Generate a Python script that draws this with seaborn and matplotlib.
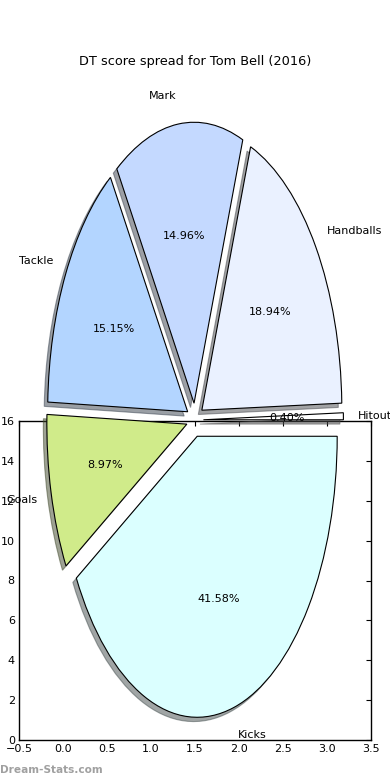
import matplotlib
matplotlib.use("Agg")
import matplotlib.pyplot as plt
import seaborn as sns

# Data (percent of DT score), in counter-clockwise order starting at 0 deg
categories = ["Hitout", "Handballs", "Mark", "Tackle", "Goals", "Kicks"]
shares = [0.40, 18.94, 14.96, 15.15, 8.97, 41.58]
wedge_colors = ["#FFFFFF", "#EAF1FF", "#C4D9FF", "#B3D5FF", "#D0EB8A", "#DBFFFF"]

x_ticks = [-0.5, 0.0, 0.5, 1.0, 1.5, 2.0, 2.5, 3.0, 3.5]
y_ticks = [0, 2, 4, 6, 8, 10, 12, 14, 16]

sns.set_theme(style="white")
plt.rcParams["font.family"] = ["DejaVu Sans"]

W, H = 390, 780
fig = plt.figure(figsize=(W / 100, H / 100), dpi=100)

# Leftover axes frame sitting behind the pie
ax = fig.add_axes([19 / W, 40 / H, 352 / W, 319 / H])
ax.set_xlim(-0.5, 3.5)
ax.set_ylim(0, 16)
ax.set_xticks(x_ticks)
ax.set_yticks(y_ticks)
ax.tick_params(direction="in", top=True, right=True, length=3.5, width=0.8,
               labelsize=8, pad=3, colors="black")
for s in ax.spines.values():
    s.set_edgecolor("black")
    s.set_linewidth(1.0)
ax.set_facecolor("white")

# Pie on a stretched axes covering the whole figure
pax = fig.add_axes([0, 0, 1, 1], zorder=2)
pax.patch.set_alpha(0)
cx, cy = 195, 360   # pie centre in pixels (from bottom-left)
rx, ry = 140, 281   # radius in pixels
pax.pie(shares, labels=categories, colors=wedge_colors,
        explode=[0.06] * len(shares), autopct="%1.2f%%", startangle=0,
        shadow={"ox": -0.018, "oy": -0.011},
        wedgeprops=dict(edgecolor="black", linewidth=0.8),
        textprops=dict(fontsize=8, color="black"))
pax.set_aspect("auto")
pax.set_xlim(-cx / rx, (W - cx) / rx)
pax.set_ylim(-cy / ry, (H - cy) / ry)
pax.axis("off")

fig.text(195 / W, 1 - 61 / H, "DT score spread for Tom Bell (2016)",
         ha="center", va="center", fontsize=9.3, color="black")
fig.text(0, 1 - 770 / H, "Dream-Stats.com", ha="left", va="center",
         fontsize=7.6, fontweight="bold", color="#a0a0a0")

fig.savefig("out.png", dpi=100)
